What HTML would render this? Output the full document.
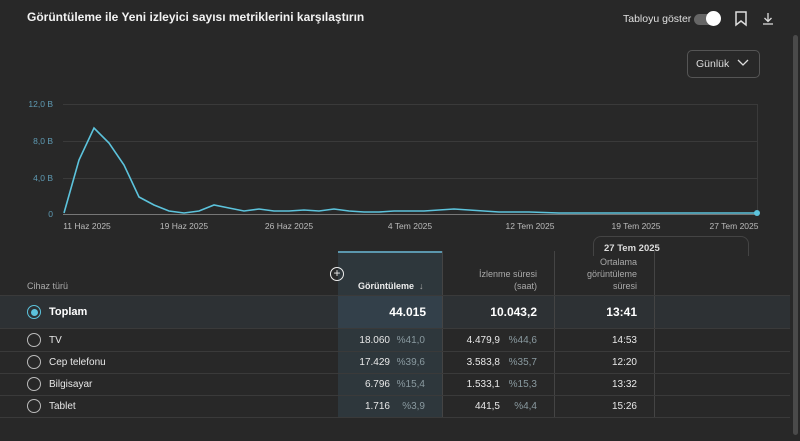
<!DOCTYPE html>
<html><head><meta charset="utf-8"><style>
*{margin:0;padding:0;box-sizing:border-box}
body{width:800px;height:441px;background:#282828;font-family:"Liberation Sans",sans-serif;color:#fff;position:relative;overflow:hidden}
.a{position:absolute;white-space:nowrap}
.r{text-align:right}
.hl{position:absolute;left:0;width:790px;height:1px;background:#3a3a3a}
.vl{position:absolute;width:1px;background:#444}
.rad{position:absolute;left:27px;width:14px;height:14px;border:1.5px solid #bbb;border-radius:50%}
.t13{font-size:10px;color:#e8e8e8}
.p{font-size:10px;color:#8a9aa0}
</style></head><body>
<div class="a" style="left:27px;top:10px;font-size:12px;font-weight:bold;color:#f2f2f2">Görüntüleme ile Yeni izleyici sayısı metriklerini karşılaştırın</div>
<div class="a" style="left:623px;top:13px;font-size:10.5px;color:#e0e0e0">Tabloyu göster</div>
<div class="a" style="left:694px;top:14px;width:26px;height:11px;border-radius:6px;background:#666"></div>
<div class="a" style="left:706px;top:11px;width:15px;height:15px;border-radius:50%;background:#fff"></div>
<svg class="a" style="left:734px;top:11px" width="14" height="16"><path d="M2 1h10v13l-5-4-5 4z" fill="none" stroke="#ddd" stroke-width="1.5"/></svg>
<svg class="a" style="left:762px;top:12px" width="12" height="14"><path d="M6 1v8M2.5 6l3.5 3.5 3.5-3.5M1 12h10" fill="none" stroke="#ddd" stroke-width="1.3"/></svg>
<div class="a" style="left:793px;top:35px;width:5px;height:400px;background:#4a4a4a;border-radius:3px"></div>
<div class="a" style="left:687px;top:50px;width:73px;height:28px;border:1px solid #555;border-radius:5px"></div>
<div class="a" style="left:696px;top:58px;font-size:10.5px;color:#ddd">Günlük</div>
<svg class="a" style="left:737px;top:59px" width="12" height="8"><path d="M1 1l5 5 5-5" fill="none" stroke="#ddd" stroke-width="1.3"/></svg>

<svg class="a" style="left:0;top:0" width="800" height="240">
<g stroke="#3a3a3a" stroke-width="1"><line x1="63" y1="104.5" x2="757" y2="104.5"/><line x1="63" y1="141.5" x2="757" y2="141.5"/><line x1="63" y1="178.5" x2="757" y2="178.5"/></g>
<line x1="63" y1="214.5" x2="757" y2="214.5" stroke="#777"/>
<line x1="757.5" y1="104" x2="757.5" y2="214" stroke="#3a3a3a"/>
<g font-size="8.5" fill="#5f9bb4" text-anchor="end" font-family="Liberation Sans"><text x="53" y="107">12,0 B</text><text x="53" y="144">8,0 B</text><text x="53" y="181">4,0 B</text><text x="53" y="217">0</text></g>
<g font-size="8.5" fill="#bbb" text-anchor="middle" font-family="Liberation Sans"><text x="87" y="229">11 Haz 2025</text><text x="184" y="229">19 Haz 2025</text><text x="289" y="229">26 Haz 2025</text><text x="410" y="229">4 Tem 2025</text><text x="530" y="229">12 Tem 2025</text><text x="636" y="229">19 Tem 2025</text><text x="734" y="229">27 Tem 2025</text></g>
<polyline fill="none" stroke="#5cc3dc" stroke-width="1.6" points="64,213 79,160 94,128 109,143 124,165 139,197 154,205 169,211 184,213 199,211 214,205 229,208 244,211 259,209 274,211 289,211 304,210 319,211 334,209 349,211 364,212 379,212 394,211 409,211 424,211 439,210 454,209 469,210 484,211 499,212 514,212 529,212 544,212.5 559,213 574,213 589,213 604,213 619,213 634,213 649,213 664,213 679,213 694,213 709,213 724,213 739,213 757,213"/>
<circle cx="757" cy="213" r="3" fill="#5cc3dc"/>
</svg>

<div class="a" style="left:593px;top:236px;width:156px;height:20px;border:1px solid #444;border-bottom:none;border-radius:8px 8px 0 0"></div>
<div class="a" style="left:604px;top:243px;font-size:9.5px;font-weight:bold;color:#ddd">27 Tem 2025</div>

<div class="a" style="left:0;top:296px;width:790px;height:32px;background:#2d3134"></div>
<div class="a" style="left:338px;top:251px;width:104px;height:166px;background:#2e373c;border-top:2px solid #5b97ae"></div>
<div class="a" style="left:338px;top:296px;width:104px;height:32px;background:#33404a"></div>
<div class="vl" style="left:442px;top:251px;height:166px"></div>
<div class="vl" style="left:554px;top:251px;height:166px"></div>
<div class="vl" style="left:654px;top:251px;height:166px"></div>
<div class="hl" style="top:295px"></div><div class="hl" style="top:328px"></div><div class="hl" style="top:351px"></div><div class="hl" style="top:373px"></div><div class="hl" style="top:395px"></div><div class="hl" style="top:417px"></div>

<div class="a" style="left:27px;top:281px;font-size:9px;color:#aaa">Cihaz türü</div>
<div class="a" style="left:330px;top:267px;width:14px;height:14px;border:1.3px solid #eee;border-radius:50%;font-size:12px;line-height:11px;text-align:center;color:#eee">+</div>
<div class="a" style="left:358px;top:281px;font-size:9px;color:#eee;font-weight:bold">Görüntüleme &nbsp;<span style="font-weight:normal;color:#aaa">↓</span></div>
<div class="a r" style="left:450px;top:268px;width:87px;font-size:9px;color:#aaa;line-height:12px">İzlenme süresi<br>(saat)</div>
<div class="a r" style="left:560px;top:256px;width:77px;font-size:9px;color:#aaa;line-height:12px">Ortalama<br>görüntüleme<br>süresi</div>

<div class="rad" style="top:305px;border-color:#5cc3dc"></div><div class="a" style="left:31px;top:309px;width:7px;height:7px;border-radius:50%;background:#5cc3dc"></div>
<div class="a" style="left:49px;top:306px;font-size:11px;font-weight:bold">Toplam</div>
<div class="a r" style="left:340px;top:305px;width:86px;font-size:12px;font-weight:bold">44.015</div>
<div class="a r" style="left:450px;top:305px;width:87px;font-size:12px;font-weight:bold">10.043,2</div>
<div class="a r" style="left:560px;top:305px;width:77px;font-size:12px;font-weight:bold">13:41</div>

<div class="rad" style="top:333px"></div><div class="a t13" style="left:49px;top:335px">TV</div>
<div class="rad" style="top:355px"></div><div class="a t13" style="left:49px;top:357px">Cep telefonu</div>
<div class="rad" style="top:377px"></div><div class="a t13" style="left:49px;top:379px">Bilgisayar</div>
<div class="rad" style="top:399px"></div><div class="a t13" style="left:49px;top:401px">Tablet</div>

<div class="a r t13" style="left:340px;top:335px;width:50px">18.060</div><div class="a r p" style="left:395px;top:335px;width:30px">%41,0</div>
<div class="a r t13" style="left:340px;top:357px;width:50px">17.429</div><div class="a r p" style="left:395px;top:357px;width:30px">%39,6</div>
<div class="a r t13" style="left:340px;top:379px;width:50px">6.796</div><div class="a r p" style="left:395px;top:379px;width:30px">%15,4</div>
<div class="a r t13" style="left:340px;top:401px;width:50px">1.716</div><div class="a r p" style="left:395px;top:401px;width:30px">%3,9</div>

<div class="a r t13" style="left:440px;top:335px;width:60px">4.479,9</div><div class="a r p" style="left:505px;top:335px;width:32px">%44,6</div>
<div class="a r t13" style="left:440px;top:357px;width:60px">3.583,8</div><div class="a r p" style="left:505px;top:357px;width:32px">%35,7</div>
<div class="a r t13" style="left:440px;top:379px;width:60px">1.533,1</div><div class="a r p" style="left:505px;top:379px;width:32px">%15,3</div>
<div class="a r t13" style="left:440px;top:401px;width:60px">441,5</div><div class="a r p" style="left:505px;top:401px;width:32px">%4,4</div>

<div class="a r t13" style="left:560px;top:335px;width:77px">14:53</div>
<div class="a r t13" style="left:560px;top:357px;width:77px">12:20</div>
<div class="a r t13" style="left:560px;top:379px;width:77px">13:32</div>
<div class="a r t13" style="left:560px;top:401px;width:77px">15:26</div>
</body></html>
